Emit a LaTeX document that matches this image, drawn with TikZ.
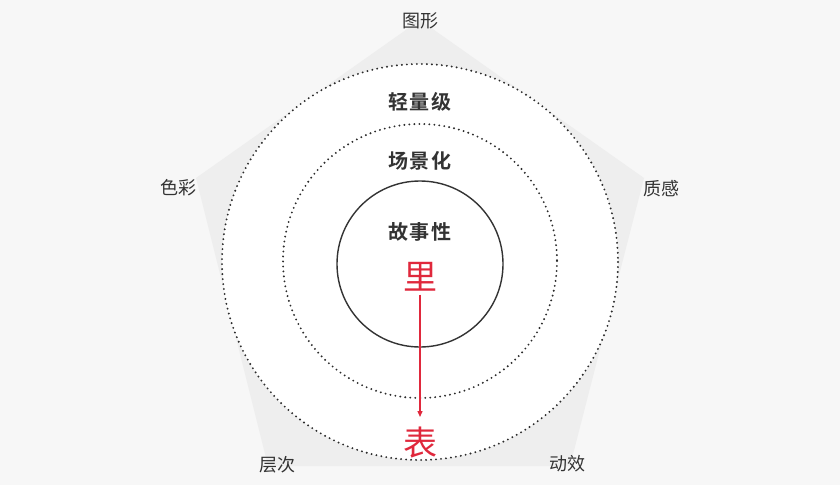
\documentclass[tikz,border=0pt]{standalone}
\usepackage{fontspec}
\newfontfamily\cjk{Noto Sans CJK SC}
\newfontfamily\cjkb{Noto Sans CJK SC Bold}
\usetikzlibrary{arrows.meta}
\definecolor{bgc}{HTML}{F7F7F7}
\definecolor{pentc}{HTML}{EEEEEE}
\definecolor{txtc}{HTML}{333333}
\definecolor{redc}{HTML}{E0283C}
\tikzset{
  outerlabel/.style={font=\cjk\fontsize{18}{18}\selectfont, text=txtc, inner sep=0pt},
  ringlabel/.style={font=\cjkb\fontsize{20}{20}\selectfont\addfontfeature{LetterSpace=7}, text=txtc, inner sep=0pt},
  redlabel/.style={font=\cjk\fontsize{34}{34}\selectfont, text=redc, inner sep=0pt},
  dotring/.style={draw=txtc!85!black, line width=2.1pt, dash pattern=on 0pt off 5pt, line cap=round},
}
\begin{document}
\begin{tikzpicture}[x=1pt,y=-1pt]
\fill[bgc] (0,0) rectangle (840,485);
\useasboundingbox (0,0) rectangle (840,485);
% pentagon
\fill[pentc] (420,20) -- (644,178) -- (570,466) -- (268,466) -- (196,178) -- cycle;
% white disk and rings
\coordinate (c) at (420,262);
\fill[white] (c) circle[radius=198];
\draw[dotring] (c) circle[radius=198];
\draw[dotring] (420,261) circle[radius=137];
\draw[txtc, line width=1.4pt] (420,264) circle[radius=83];
% outer labels
\node[outerlabel] (tuxing) at (420,21) {图形};
\node[outerlabel] (secai) at (178,188) {色彩};
\node[outerlabel] (zhigan) at (661,189) {质感};
\node[outerlabel] (cengci) at (277,465) {层次};
\node[outerlabel] (dongxiao) at (567,464) {动效};
% ring labels
\node[ringlabel] (qing) at (420,102) {轻量级};
\node[ringlabel] (chang) at (420,161) {场景化};
\node[ringlabel] (gushi) at (420,232) {故事性};
% red
\node[redlabel] (li) at (420,277) {里};
\node[redlabel] (biao) at (420,443) {表};
\coordinate (arrowend) at (420,417);
\draw[redc, line width=1.3pt, -{Triangle[length=6pt,width=5pt]}] (li.south) ++(0,3) -- (arrowend);
\end{tikzpicture}
\end{document}
